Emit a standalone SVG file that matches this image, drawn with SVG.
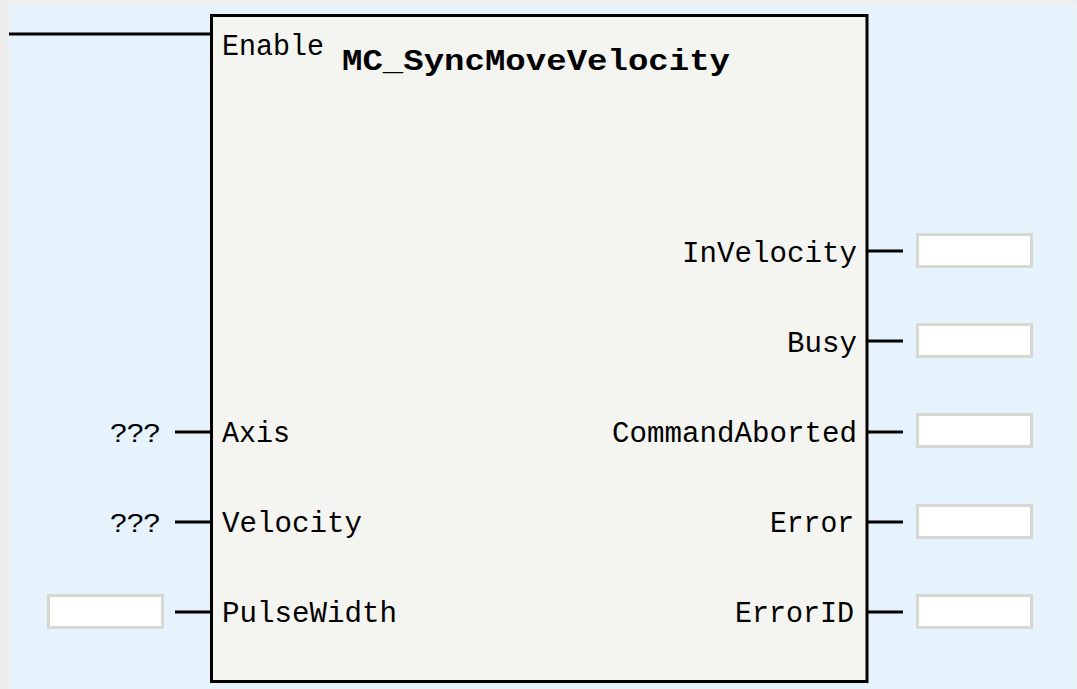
<svg xmlns="http://www.w3.org/2000/svg" width="1077" height="689" viewBox="0 0 1077 689">
<style>
.lbl{font-family:"Liberation Mono","DejaVu Sans Mono",monospace;font-size:30px;fill:#000;}
.ttl{font-family:"Liberation Mono","DejaVu Sans Mono",monospace;font-size:30px;font-weight:bold;fill:#000;}
.q{font-family:"Liberation Sans","DejaVu Sans",sans-serif;font-size:26px;fill:#000;}
.w{stroke:#000;stroke-width:3;fill:none;}
.box{fill:#fff;stroke:#d6d8d2;stroke-width:3;}
</style>
<rect x="0" y="0" width="1077" height="689" fill="#eeeeee"/>
<rect x="9" y="5" width="1067" height="684" fill="#e6f3fd"/>
<g id="connectors">
<line class="w" x1="9" y1="34" x2="211" y2="34"/>
<line class="w" x1="175" y1="432" x2="211" y2="432"/>
<line class="w" x1="175" y1="522" x2="211" y2="522"/>
<line class="w" x1="175" y1="612" x2="211" y2="612"/>
<line class="w" x1="867" y1="251" x2="903" y2="251"/>
<line class="w" x1="867" y1="341" x2="903" y2="341"/>
<line class="w" x1="867" y1="432" x2="903" y2="432"/>
<line class="w" x1="867" y1="522" x2="903" y2="522"/>
<line class="w" x1="867" y1="612" x2="903" y2="612"/>
</g>
<g id="block">
<rect x="211.5" y="15.5" width="655.5" height="666" fill="#f4f5f0" stroke="#000" stroke-width="3"/>
<text class="lbl" x="222" y="55" textLength="102" lengthAdjust="spacingAndGlyphs">Enable</text>
<text class="ttl" x="342" y="70" textLength="388" lengthAdjust="spacingAndGlyphs">MC_SyncMoveVelocity</text>
<text class="lbl" x="222" y="442" textLength="68" lengthAdjust="spacingAndGlyphs">Axis</text>
<text class="lbl" x="222" y="532" textLength="140" lengthAdjust="spacingAndGlyphs">Velocity</text>
<text class="lbl" x="222" y="622" textLength="175" lengthAdjust="spacingAndGlyphs">PulseWidth</text>
<text class="lbl" x="682" y="262" textLength="175" lengthAdjust="spacingAndGlyphs">InVelocity</text>
<text class="lbl" x="787" y="352" textLength="70" lengthAdjust="spacingAndGlyphs">Busy</text>
<text class="lbl" x="612" y="442" textLength="245" lengthAdjust="spacingAndGlyphs">CommandAborted</text>
<text class="lbl" x="770" y="532" textLength="84" lengthAdjust="spacingAndGlyphs">Error</text>
<text class="lbl" x="735" y="622" textLength="119" lengthAdjust="spacingAndGlyphs">ErrorID</text>
</g>
<g id="in-axis"><text class="q" x="110" y="442" textLength="50" lengthAdjust="spacingAndGlyphs">???</text></g>
<g id="in-velocity"><text class="q" x="110" y="532" textLength="50" lengthAdjust="spacingAndGlyphs">???</text></g>
<g id="in-pulsewidth"><rect class="box" x="48.5" y="595.5" width="114" height="32"/></g>
<g id="out-invelocity"><rect class="box" x="917.5" y="234.5" width="114" height="32"/></g>
<g id="out-busy"><rect class="box" x="917.5" y="324.5" width="114" height="32"/></g>
<g id="out-commandaborted"><rect class="box" x="917.5" y="414.5" width="114" height="32"/></g>
<g id="out-error"><rect class="box" x="917.5" y="505.5" width="114" height="32"/></g>
<g id="out-errorid"><rect class="box" x="917.5" y="595.5" width="114" height="32"/></g>
</svg>
